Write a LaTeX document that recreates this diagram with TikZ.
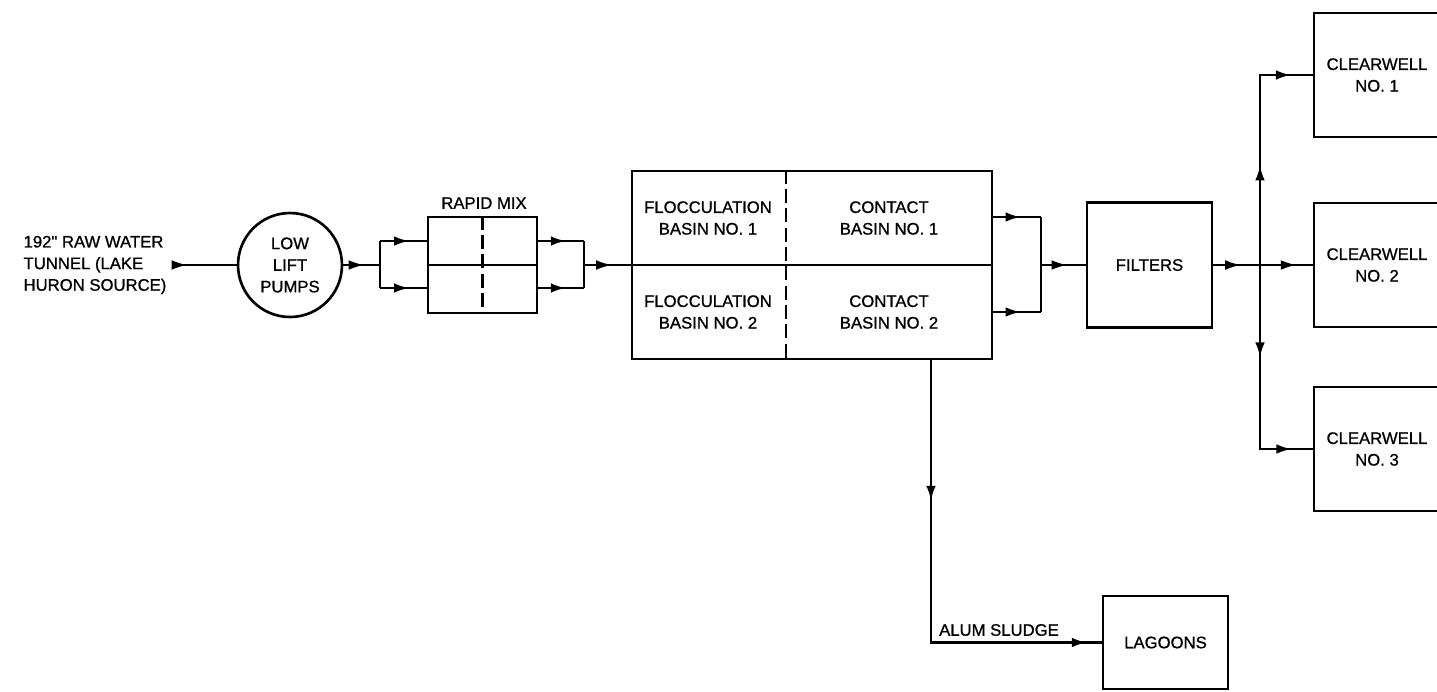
\documentclass[tikz,border=0pt]{standalone}
\usepackage{fontspec}
\setmainfont{Liberation Sans}[FakeBold=0.9]
\usetikzlibrary{arrows.meta,decorations.markings,calc}

\tikzset{
  box/.style={draw, line width=1.5pt, inner sep=0pt, align=center},
  lbl/.style={align=center, inner sep=0pt},
  pipe/.style={line width=1.3pt},
  feed/.style={line width=0.6pt},
  flow/.style={postaction={decorate}, decoration={markings,
    mark=at position #1 with {\arrow{Latex[length=8.5pt,width=5.5pt]}}}},
  flowtwo/.style 2 args={postaction={decorate}, decoration={markings,
    mark=at position #1 with {\arrow{Latex[length=8.5pt,width=5.5pt]}},
    mark=at position #2 with {\arrow{Latex[length=8.5pt,width=5.5pt]}}}}
}

\begin{document}
\begin{tikzpicture}[x=0.02cm, y=-0.02cm]
\fontsize{9.5}{12.3}\selectfont
\useasboundingbox (0,0) rectangle (1437,691);
\node (src) at (95,265) [lbl, align=left, inner xsep=5pt] {192\textquotedbl{} RAW WATER\\TUNNEL (LAKE\\HURON SOURCE)};
\node (pumps) at (290,265) [box, circle, minimum size=2.08cm] {LOW\\LIFT\\PUMPS};
\node (mix) at (482.5,265) [box, minimum width=2.18cm, minimum height=1.92cm] {};
\node (mixlbl) at (484,203) [lbl] {RAPID MIX};
\node (basin) at (812,265) [box, minimum width=7.2cm, minimum height=3.76cm] {};
\node (floc1) at (708,218) [lbl] {FLOCCULATION\\BASIN NO. 1};
\node (floc2) at (708,312) [lbl] {FLOCCULATION\\BASIN NO. 2};
\node (cont1) at (889,218) [lbl] {CONTACT\\BASIN NO. 1};
\node (cont2) at (889,312) [lbl] {CONTACT\\BASIN NO. 2};
\node (filt) at (1149.5,265) [box, minimum width=2.5cm, minimum height=2.5cm] {FILTERS};
\node (cw1) at (1377,75) [box, minimum width=2.52cm, minimum height=2.48cm] {CLEARWELL\\NO. 1};
\node (cw2) at (1377,265) [box, minimum width=2.52cm, minimum height=2.48cm] {CLEARWELL\\NO. 2};
\node (cw3) at (1377,449) [box, minimum width=2.52cm, minimum height=2.48cm] {CLEARWELL\\NO. 3};
\node (lag) at (1165.5,642.5) [box, minimum width=2.5cm, minimum height=1.86cm] {LAGOONS};
\node (sludge) at (999,630) [lbl] {ALUM SLUDGE};

\draw[pipe] (mix.west) -- (mix.east);
\draw[pipe, dash pattern=on 8pt off 3pt] (mix.north) -- (mix.south);
\draw[pipe] (basin.west) -- (basin.east);
\draw[pipe, dash pattern=on 8pt off 3pt] ($(basin.north west)!0.428!(basin.north east)$) -- ($(basin.south west)!0.428!(basin.south east)$);

\coordinate (sp) at (380,265);
\coordinate (sa) at (380,241);
\coordinate (sb) at (380,288);
\coordinate (ma) at (584,241);
\coordinate (mb) at (584,288);
\coordinate (mm) at (584,265);
\coordinate (ba) at (1041,217);
\coordinate (bb) at (1041,312);
\coordinate (bm) at (1041,265);
\coordinate (fj) at (1260,265);
\coordinate (slx) at (931,643);

\draw[feed, flow=0.18] (src.east) -- (pumps.west);
\draw[feed, flow=0.55] (pumps.east) -- (sp);
\draw[pipe] (sa) -- (sb);
\draw[pipe, flow=0.62] (sa) -- (sa -| mix.west);
\draw[pipe, flow=0.62] (sb) -- (sb -| mix.west);
\draw[pipe, flow=0.6] (mix.east |- ma) -- (ma);
\draw[pipe, flow=0.6] (mix.east |- mb) -- (mb);
\draw[pipe] (ma) -- (mb);
\draw[feed, flow=0.58] (mm) -- (basin.west);
\draw[pipe, flow=0.57] (basin.east |- ba) -- (ba);
\draw[pipe, flow=0.57] (basin.east |- bb) -- (bb);
\draw[pipe] (ba) -- (bb);
\draw[feed, flow=0.57] (bm) -- (filt.west);
\draw[feed, flowtwo={0.27}{0.83}] (filt.east) -- (cw2.west);
\draw[pipe, flowtwo={0.41}{0.91}] (fj) |- (cw1.west);
\draw[pipe, flowtwo={0.39}{0.91}] (fj) |- (cw3.west);
\draw[pipe, flowtwo={0.31}{0.967}] (basin.south -| slx) |- (lag.west);
\end{tikzpicture}
\end{document}
